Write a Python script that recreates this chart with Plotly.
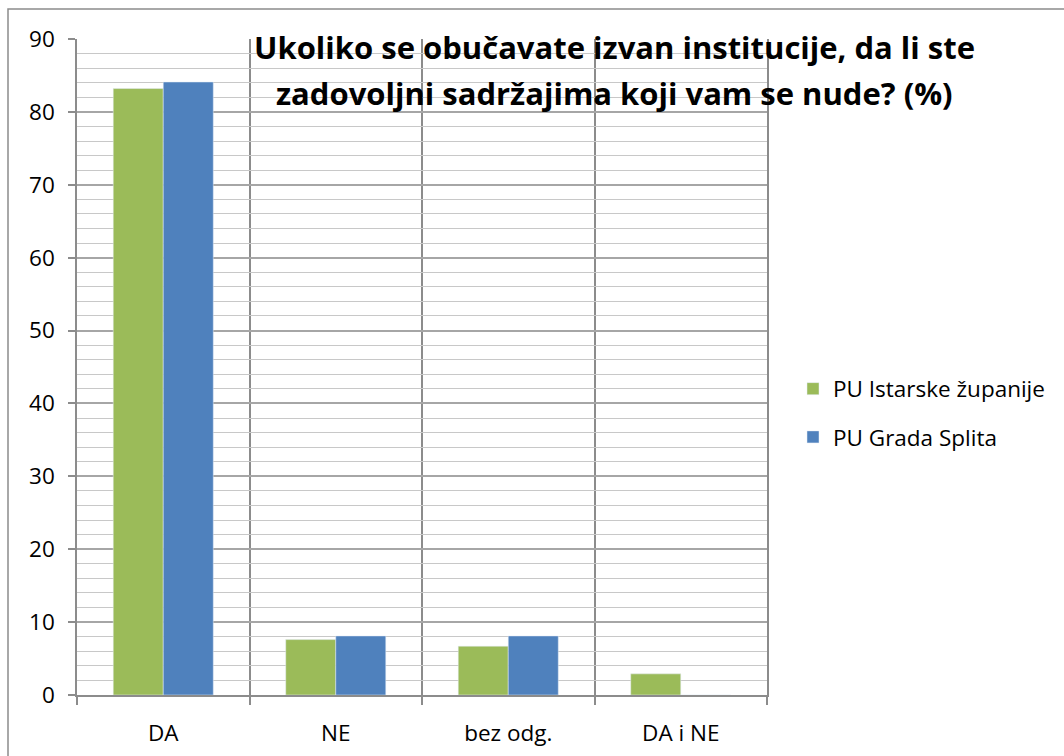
import plotly.graph_objects as go

categories = ["DA", "NE", "bez odg.", "DA i NE"]
istra = [83.2, 7.6, 6.7, 2.9]
split = [84.1, 8.1, 8.1, 0]
series_names = ["PU Istarske županije", "PU Grada Splita"]
title_lines = [
    "Ukoliko se obučavate izvan institucije, da li ste",
    "zadovoljni sadržajima koji vam se nude? (%)",
]

GREEN = "#9BBB59"
BLUE = "#4F81BD"
FONT = "Open Sans"
TXT = 22.5

# plot area in pixels (from the reference)
L, R, T, B = 77, 767, 39, 695
PW, PH = R - L, B - T

x_pos = list(range(len(categories)))

fig = go.Figure()
fig.add_trace(go.Bar(x=x_pos, y=istra, name=series_names[0],
                     marker_color=GREEN, legendgroup="a"))
fig.add_trace(go.Bar(x=x_pos, y=split, name=series_names[1],
                     marker_color=BLUE, legendgroup="b"))

# title as two centred bold lines
for line, cy in zip(title_lines, [47, 93]):
    fig.add_annotation(
        text=f"<b>{line}</b>",
        xref="paper", yref="paper",
        x=(614 - L) / PW, y=(B - cy) / PH,
        xanchor="center", yanchor="middle",
        showarrow=False,
        font={"family": FONT, "size": 31, "color": "black"},
    )

fig.update_layout(
    width=1064,
    height=756,
    paper_bgcolor="white",
    plot_bgcolor="white",
    margin={"l": L, "r": 1064 - R, "t": T, "b": 756 - B},
    barmode="group",
    bargap=0.42,
    bargroupgap=0,
    font={"family": FONT, "color": "black", "size": TXT},
    showlegend=True,
    legend={
        "x": (793 - L) / PW,
        "xanchor": "left",
        "y": (B - 413) / PH,
        "yanchor": "middle",
        "font": {"family": FONT, "size": TXT},
        "tracegroupgap": 16,
        "traceorder": "grouped",
        "bgcolor": "rgba(0,0,0,0)",
    },
    xaxis={
        "range": [-0.5, len(categories) - 0.5],
        "tickvals": x_pos,
        "ticktext": categories,
        "ticks": "",
        "showgrid": False,
        "zeroline": False,
        "automargin": False,
        "ticklabelstandoff": 17,
        "showline": True,
        "linecolor": "#8c8c8c",
        "linewidth": 1.5,
        "minor": {
            "tick0": -0.5,
            "dtick": 1,
            "ticks": "outside",
            "ticklen": 8,
            "tickcolor": "#8c8c8c",
            "tickwidth": 1.5,
            "showgrid": True,
            "gridcolor": "#8c8c8c",
            "gridwidth": 1.5,
        },
    },
    yaxis={
        "range": [0, 90],
        "dtick": 10,
        "ticks": "outside",
        "ticklen": 7,
        "tickcolor": "#8c8c8c",
        "tickwidth": 1.5,
        "ticklabelstandoff": 9,
        "showgrid": True,
        "gridcolor": "#a6a6a6",
        "gridwidth": 1.5,
        "zeroline": False,
        "automargin": False,
        "showline": True,
        "mirror": True,
        "linecolor": "#8c8c8c",
        "linewidth": 1.5,
        "minor": {
            "dtick": 2,
            "showgrid": True,
            "gridcolor": "#c8c8c8",
            "gridwidth": 1.3,
        },
    },
    shapes=[
        {
            "type": "rect",
            "xref": "paper",
            "yref": "paper",
            "x0": (8 - L) / PW,
            "x1": 1.6,
            "y0": -0.3,
            "y1": (B - 9) / PH,
            "line": {"color": "#8c8c8c", "width": 1.5},
            "layer": "below",
        }
    ],
)

fig.write_html(
    "out.html",
    config={"displayModeBar": False},
    post_script="document.body.style.margin='0';",
)
